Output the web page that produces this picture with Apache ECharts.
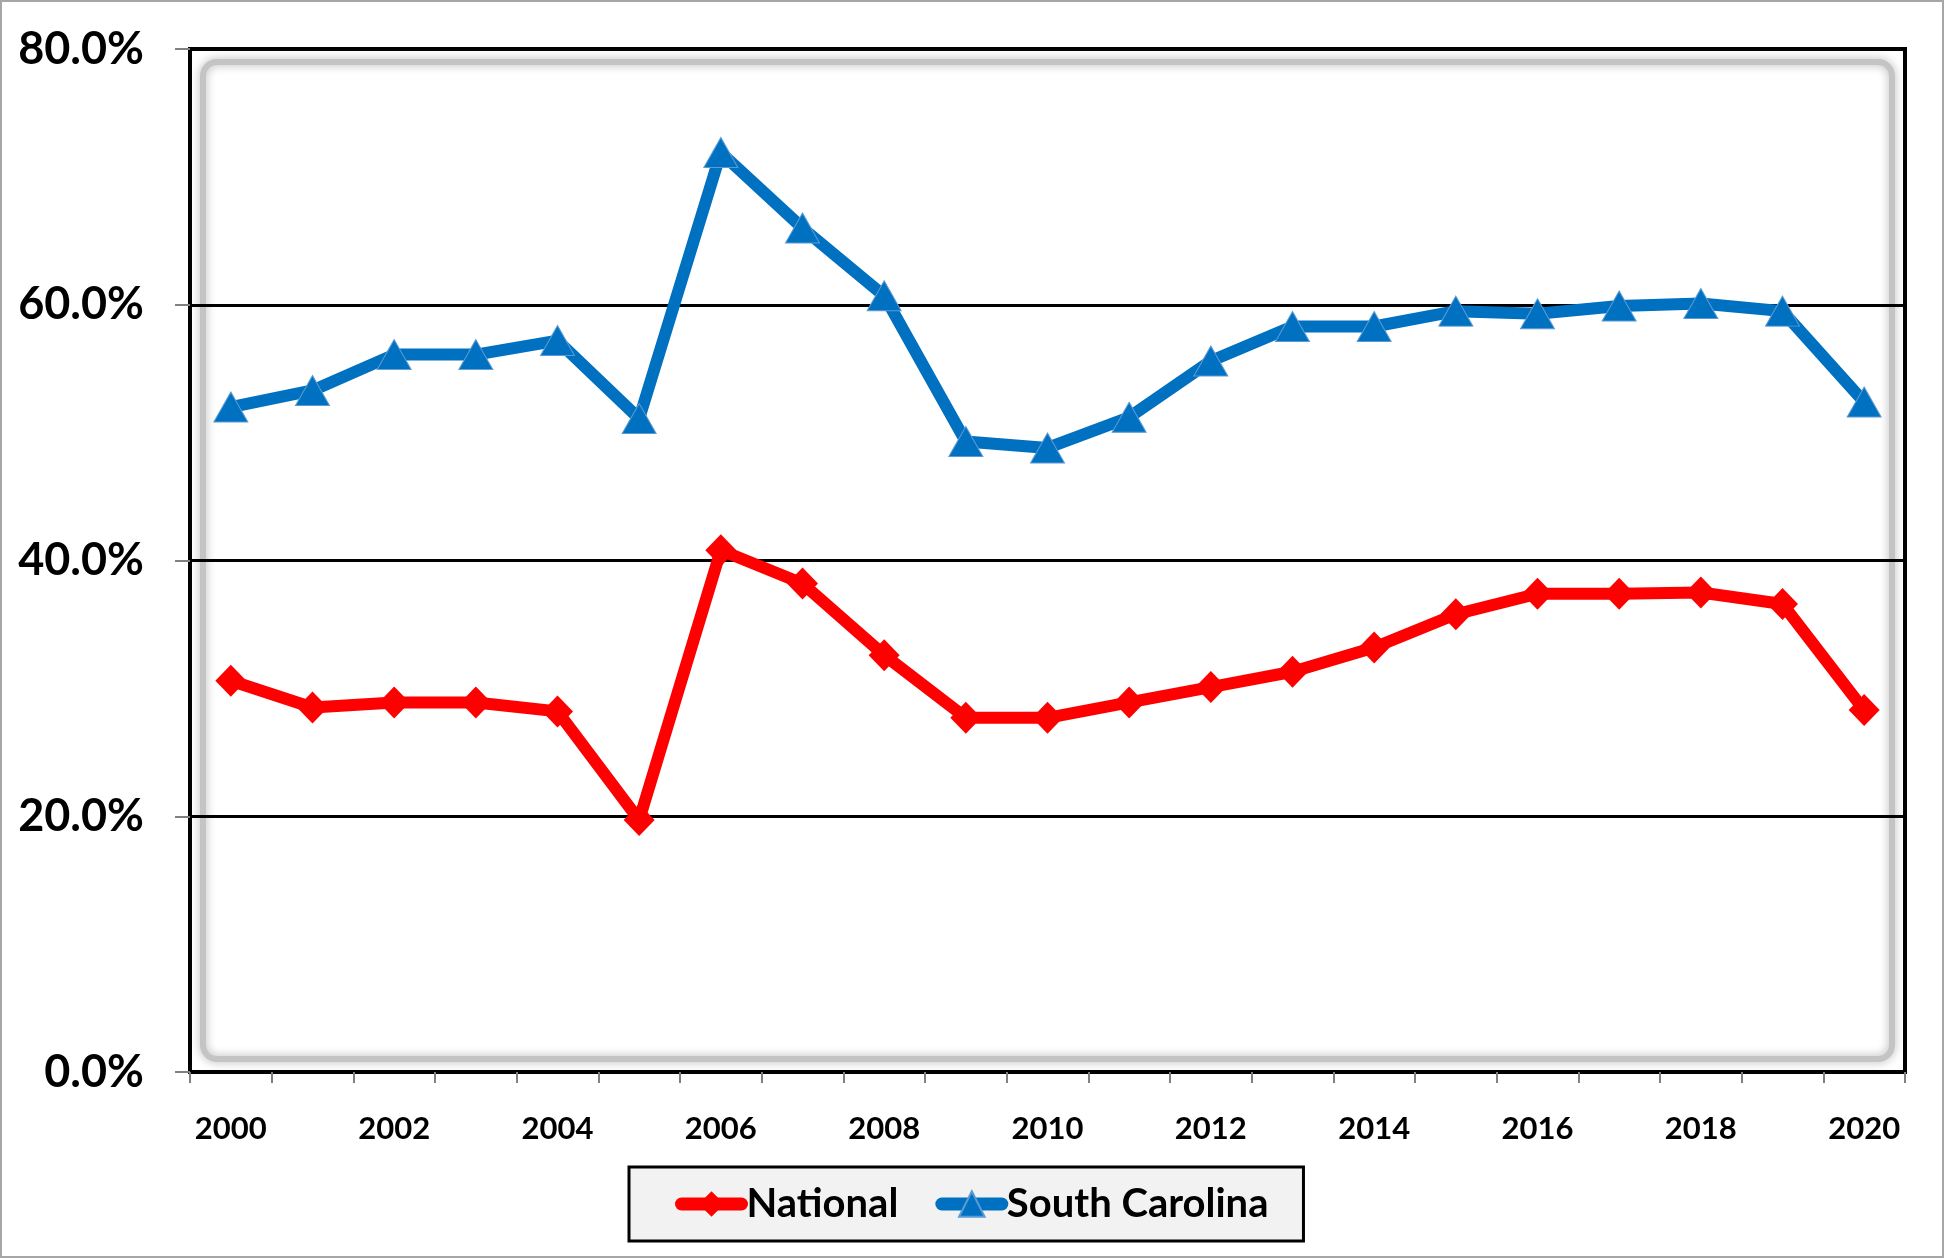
<!DOCTYPE html>
<html>
<head>
<meta charset="utf-8">
<script src="https://cdn.jsdelivr.net/npm/echarts@6/dist/echarts.min.js"></script>
<style>
  html, body { margin: 0; padding: 0; background: #fff; }
  #myCharts {
    width: 1944px;
    height: 1258px;
    box-sizing: border-box;
    border: 2px solid #a6a6a6;
  }
</style>
</head>
<body>
<div id="myCharts"></div>
<script>
// 年份 / 数据
const years = ['2000', '2001', '2002', '2003', '2004', '2005', '2006', '2007', '2008', '2009', '2010',
  '2011', '2012', '2013', '2014', '2015', '2016', '2017', '2018', '2019', '2020'];
const national = [30.6, 28.5, 28.9, 28.9, 28.2, 19.7, 40.8, 38.2, 32.6, 27.7, 27.7,
  28.9, 30.1, 31.3, 33.2, 35.8, 37.4, 37.4, 37.5, 36.6, 28.3];
const southCarolina = [52.0, 53.3, 56.1, 56.1, 57.2, 51.1, 71.9, 66.0, 60.7, 49.3, 48.8,
  51.2, 55.6, 58.3, 58.3, 59.5, 59.3, 59.9, 60.1, 59.5, 52.4];
const yMin = 0, yMax = 80, yStep = 20;

const gridL = 188, gridT = 47, gridR = 37, gridB = 184;
const W = 1940, H = 1254;

const myCharts = echarts.init(document.getElementById('myCharts'));
let option = {
  backgroundColor: '#fff',
  animation: false,
  grid: {
    left: gridL,
    top: gridT,
    right: gridR,
    bottom: gridB,
    show: true,
    borderColor: '#000',
    borderWidth: 4,
    backgroundColor: 'transparent',
  },
  // 内部灰色阴影框
  graphic: [
    {
      type: 'rect',
      z: -10,
      silent: true,
      shape: { x: gridL + 13, y: gridT + 13, width: W - gridL - gridR - 26, height: H - gridT - gridB - 26, r: 14 },
      style: { fill: 'none', stroke: '#c4c4c4', lineWidth: 6, shadowBlur: 10, shadowColor: 'rgba(0,0,0,0.3)' },
    },
  ],
  legend: {
    left: 627,
    top: 1165,
    data: ['National', 'South Carolina'],
    backgroundColor: '#f2f2f2',
    borderColor: '#000',
    borderWidth: 3,
    borderRadius: 0,
    padding: [17, 35, 17, 46],
    itemWidth: 60,
    itemHeight: 32,
    itemGap: 37,
    lineStyle: { width: 13, cap: 'round' },
    textStyle: {
      fontFamily: 'Lato, sans-serif',
      fontWeight: 'bold',
      fontSize: 40,
      color: '#000',
    },
  },
  xAxis: {
    type: 'category',
    data: years,
    boundaryGap: true,
    axisLine: { lineStyle: { color: '#000', width: 4 } },
    axisTick: { show: true, interval: 0, length: 11, lineStyle: { color: '#808080', width: 2 } },
    axisLabel: {
      interval: 1,
      margin: 41,
      fontFamily: 'Lato, sans-serif',
      fontWeight: 'bold',
      fontSize: 31,
      color: '#000',
    },
    splitLine: { show: false },
  },
  yAxis: {
    type: 'value',
    min: yMin,
    max: yMax,
    interval: yStep,
    axisLine: { show: true, lineStyle: { color: '#000', width: 4 } },
    axisTick: { show: true, length: 15, lineStyle: { color: '#808080', width: 2 } },
    axisLabel: {
      margin: 46,
      fontFamily: 'Lato, sans-serif',
      fontWeight: 'bold',
      fontSize: 45,
      color: '#000',
      formatter: (v) => v.toFixed(1) + '%',
    },
    splitLine: { show: true, lineStyle: { color: '#000', width: 3 } },
  },
  series: [
    {
      name: 'National',
      type: 'line',
      data: national,
      symbol: 'diamond',
      symbolSize: [31, 32],
      lineStyle: { color: '#ff0000', width: 12, cap: 'round' },
      itemStyle: { color: '#ff0000' },
      z: 3,
    },
    {
      name: 'South Carolina',
      type: 'line',
      data: southCarolina,
      symbol: 'triangle',
      symbolSize: [34, 30],
      lineStyle: { color: '#0070c0', width: 12, cap: 'round' },
      itemStyle: { color: '#0070c0', borderColor: '#5b9bd5', borderWidth: 1 },
      z: 4,
    },
  ],
};
myCharts.setOption(option);
</script>
</body>
</html>
